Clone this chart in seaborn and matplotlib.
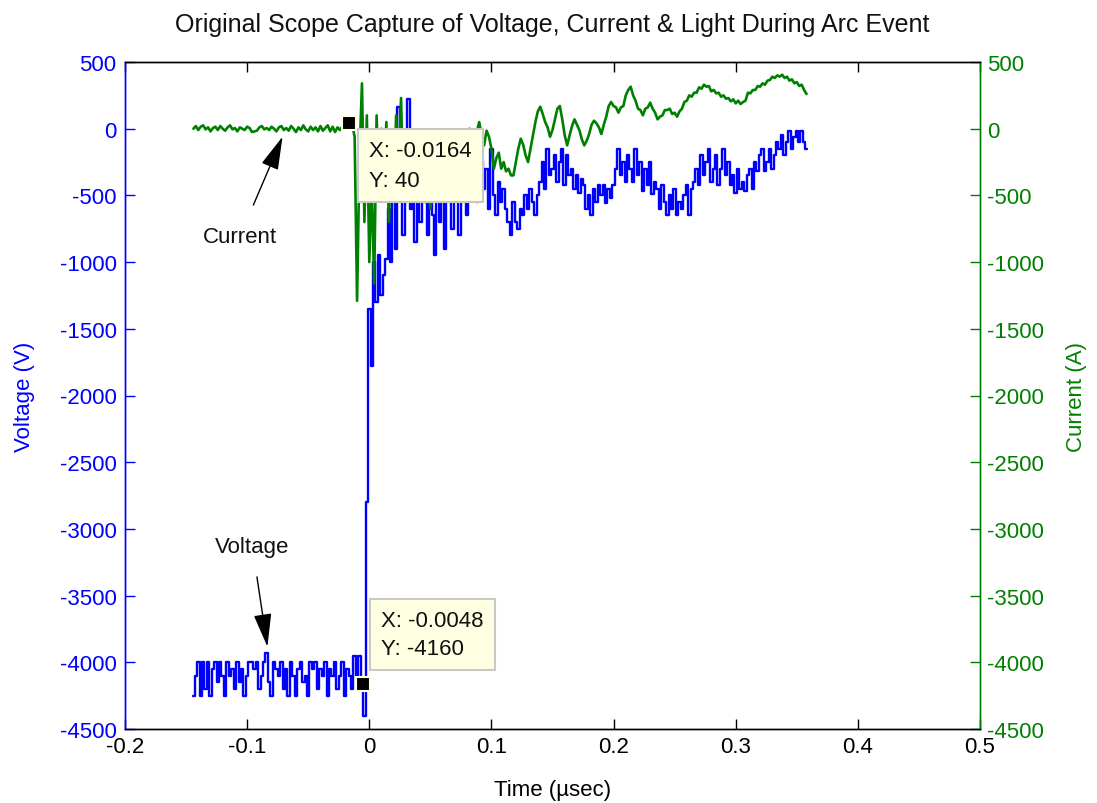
import numpy as np
import pandas as pd
import matplotlib
matplotlib.use("Agg")
import matplotlib.pyplot as plt
import seaborn as sns

sns.set_theme(style="white")
plt.rcParams['font.family'] = ['Liberation Sans', 'DejaVu Sans']

# ---------------- data ----------------
t_start, t_step = -0.144, 0.002   # sample grid in microseconds

voltage = [
    -4250, -4100, -4000, -4250, -4000, -4200, -4000, -4250, -4050, -4000,
    -4150, -4000, -4100, -4250, -4000, -4100, -4050, -4200, -4000, -4150,
    -4050, -4250, -4100, -4000, -4000, -4050, -4000, -4200, -4100, -4000,
    -3930, -4150, -4250, -4000, -4050, -4100, -4000, -4200, -4050, -4250,
    -4000, -4100, -4250, -4050, -4000, -4150, -4100, -4250, -4000, -4050,
    -4000, -4200, -4050, -4100, -4000, -4250, -4050, -4100, -4000, -4200,
    -4100, -4000, -4250, -4050, -4100, -4200, -3950, -4100, -3950, -4160,
    -4400, -2800, -1350, -1780, -1000, -1300, -950, -1250, -1100, -980,
    -600, -1000, -500, -900, 165, -500, -800, -300, 225, -600,
    -250, -850, -400, -700, -150, -550, -800, -300, -650, -950,
    -400, -700, -300, -900, -500, -350, -750, -450, -250, -800,
    -500, -350, -650, -250, -450, -300, -550, -400, -250, -450,
    -300, -600, -150, -500, -650, -400, -550, -450, -600, -700,
    -800, -550, -700, -750, -600, -650, -500, -600, -450, -550,
    -650, -500, -400, -250, -450, -150, -350, -300, -200, -400,
    -250, -150, -420, -200, -350, -300, -450, -350, -480, -380,
    -420, -600, -500, -650, -450, -550, -420, -500, -420, -560,
    -450, -520, -420, -300, -150, -350, -250, -400, -200, -300,
    -400, -150, -350, -250, -470, -300, -420, -250, -490, -400,
    -450, -600, -420, -550, -650, -500, -600, -450, -650, -550,
    -600, -500, -420, -650, -450, -400, -300, -420, -200, -350,
    -250, -150, -400, -300, -200, -420, -300, -150, -350, -250,
    -420, -350, -480, -300, -450, -400, -470, -350, -300, -450,
    -250, -320, -200, -150, -320, -250, -150, -300, -200, -100,
    -150, -50, -200, -100, -15, -150, -60, -15, -100, -15,
    -100, -150,
]

current = [
    0, 20, -10, 15, 25, -5, 10, -20, 5, 15,
    -10, 20, 0, -15, 10, 25, -5, 5, -20, 10,
    0, -10, 15, 5, -25, -20, -15, 10, 20, -5,
    5, -10, 15, 0, -20, 10, 20, -10, 5, -15,
    20, 0, -25, 10, -10, 25, -5, -20, 15, -10,
    10, -20, 20, -15, 5, 25, -20, 15, -25, 10,
    -10, 20, 40, 40, 40, 30, -60, -1290, -200, 340,
    -700, 100, -1000, -400, -1160, 100, -500, 0, -300, 50,
    -700, -200, -450, 100, -300, 230, -500, -150, -400, -250,
    -450, -300, -550, -350, -250, -500, -350, -600, -400, -450,
    -400, -300, -350, -250, -300, -200, -250, -150, -200, -100,
    -150, -50, -100, 0, -50, -100, -25, 50, -50, -125,
    -15, -60, -150, -300, -220, -180, -300, -250, -320, -300,
    -350, -350, -250, -150, -75, -120, -200, -250, -150, -50,
    50, 130, 165, 110, 50, 10, -60, -10, 70, 150,
    170, 70, -50, -125, -50, 20, 70, 30, -10, -80,
    -125, -90, -40, 30, 60, 40, 10, -40, 30, 90,
    170, 200, 170, 160, 120, 160, 170, 250, 290, 315,
    250, 210, 150, 140, 100, 150, 160, 195, 150, 120,
    70, 90, 100, 140, 140, 150, 110, 120, 90, 130,
    150, 200, 210, 250, 240, 270, 270, 310, 300, 330,
    315, 320, 280, 290, 265, 270, 240, 250, 225, 230,
    205, 220, 190, 210, 185, 200, 210, 270, 265, 290,
    290, 320, 315, 340, 330, 360, 365, 390, 380, 400,
    390, 405, 380, 390, 360, 370, 340, 350, 320, 330,
    290, 260,
]

tip_current = (-0.0164, 40)
tip_voltage = (-0.0048, -4160)

x_ticks = [-0.2, -0.1, 0, 0.1, 0.2, 0.3, 0.4, 0.5]
y_ticks = [500, 0, -500, -1000, -1500, -2000, -2500, -3000, -3500, -4000, -4500]

title = "Original Scope Capture of Voltage, Current & Light During Arc Event"

# ---------------- figure ----------------
n = len(voltage)
time = t_start + t_step * np.arange(n)
dfv = pd.DataFrame({"t": time, "v": voltage})
dfc = pd.DataFrame({"t": time[:len(current)], "i": current})

BLUE = "#0000FF"
GREEN = "#008000"
FS = 16

fig = plt.figure(figsize=(10.97, 8.04), dpi=100)
ax = fig.add_axes([125/1097, 1-730/804, (980-125)/1097, (730-63)/804])
ax2 = ax.twinx()

sns.lineplot(data=dfv, x="t", y="v", ax=ax, color=BLUE, lw=1.7,
             drawstyle="steps-mid", estimator=None, sort=False)
sns.lineplot(data=dfc, x="t", y="i", ax=ax2, color=GREEN, lw=1.9,
             estimator=None, sort=False)

for a in (ax, ax2):
    a.set_xlim(-0.2, 0.5)
    a.set_ylim(-4500, 500)
    a.set_yticks(y_ticks)
    a.set_xticks(x_ticks)
    a.grid(False)

ax.set_xticklabels([f"{v:g}" for v in x_ticks])
ax.set_yticklabels([f"{v}" for v in y_ticks])
ax2.set_yticklabels([f"{v}" for v in y_ticks])

ax.tick_params(axis="x", direction="in", length=7, width=1, top=True,
               bottom=True, labelsize=FS, colors="black", pad=5)
ax.tick_params(axis="y", direction="in", length=7, width=1, left=True,
               right=False, labelsize=FS, colors=BLUE, pad=6)
ax2.tick_params(axis="y", direction="in", length=7, width=1, right=True,
                left=False, labelsize=FS, colors=GREEN, pad=5)

for a in (ax, ax2):
    for s in a.spines.values():
        s.set_linewidth(1.0)
        s.set_color("black")
ax.spines["left"].set_color(BLUE)
ax2.spines["left"].set_color(BLUE)
ax2.spines["right"].set_color(GREEN)
ax.spines["right"].set_color(GREEN)

ax.set_xlabel("Time (\u00b5sec)", fontsize=FS, color="black", labelpad=16)
ax.set_ylabel("Voltage (V)", fontsize=FS, color=BLUE, labelpad=18)
ax2.set_ylabel("Current (A)", fontsize=FS, color=GREEN, labelpad=16)
ax.set_title(title, fontsize=18, color="#111111", pad=22)

# text annotations with arrows
ax.annotate("Current", xy=(-0.071, -60), xytext=(-0.106, -810),
            fontsize=FS, ha="center", va="center", color="#111111",
            arrowprops=dict(arrowstyle="-|>,head_width=0.35,head_length=1.3",
                            color="black", lw=1, shrinkA=14, shrinkB=0))
ax.annotate("Voltage", xy=(-0.0834, -3883), xytext=(-0.0957, -3133),
            fontsize=FS, ha="center", va="center", color="#111111",
            arrowprops=dict(arrowstyle="-|>,head_width=0.35,head_length=1.3",
                            color="black", lw=1, shrinkA=12, shrinkB=0))

# data tips
box = dict(boxstyle="square,pad=0.5", fc="#FFFFE1", ec="#C8C8C8", lw=1.5)
ax2.plot([tip_current[0]], [tip_current[1]], marker="s", ms=10, color="black",
         mec="#FFFFE1", mew=1.5, zorder=10)
ax2.annotate(f"X: {tip_current[0]:g}\nY: {tip_current[1]:g}", xy=tip_current,
             xytext=(20, -17), textcoords="offset pixels", ha="left", va="top",
             fontsize=FS, color="#111111", bbox=box, zorder=11, linespacing=1.55)
ax2.plot([tip_voltage[0]], [tip_voltage[1]], marker="s", ms=10, color="black",
         mec="#FFFFE1", mew=1.5, zorder=10)
ax2.annotate(f"X: {tip_voltage[0]:g}\nY: {tip_voltage[1]:g}", xy=tip_voltage,
             xytext=(18, 74), textcoords="offset pixels", ha="left", va="top",
             fontsize=FS, color="#111111", bbox=box, zorder=11, linespacing=1.45)

fig.savefig("out.png", dpi=100)
